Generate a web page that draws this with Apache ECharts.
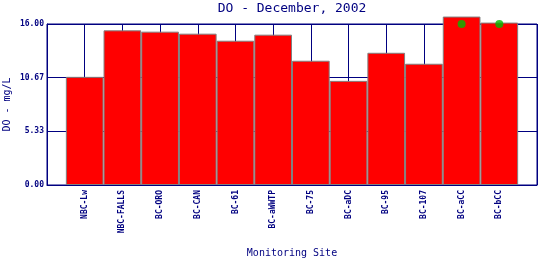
<!DOCTYPE html>
<html>
<head>
<meta charset="utf-8">
<script src="https://cdn.jsdelivr.net/npm/echarts@6/dist/echarts.min.js"></script>
<style>html,body{margin:0;padding:0;background:#fff;}#c{width:540px;height:260px;}</style>
</head>
<body>
<div id="c"></div>
<script>
const categories = ['NBC-Lw','NBC-FALLS','BC-ORO','BC-CAN','BC-61','BC-aWWTP','BC-75','BC-aDC','BC-95','BC-107','BC-aCC','BC-bCC'];
const doValues = [10.75, 15.37, 15.24, 15.04, 14.34, 14.94, 12.35, 10.35, 13.14, 12.05, 16.74, 16.14];
const markerValues = [null, null, null, null, null, null, null, null, null, null, 16.0, 16.0];
const yTicks = [0, 16/3, 32/3, 16];

const navy = '#000080';
const font = 'DejaVu Sans Mono';
const axisCats = [''].concat(categories, ['']);
const barData = [null].concat(doValues, [null]);
const dotData = [null].concat(markerValues, [null]);

const chart = echarts.init(document.getElementById('c'), null, {renderer: 'canvas'});
chart.setOption({
  animation: false,
  backgroundColor: '#ffffff',
  title: {
    text: 'DO - December, 2002',
    left: 292, top: 2, textAlign: 'center', padding: 0,
    textStyle: {color: navy, fontFamily: font, fontSize: 13, fontWeight: 'normal'}
  },
  grid: {left: 47, right: 3, top: 24, bottom: 75, show: true, borderColor: navy, borderWidth: 1,
         containLabel: false, outerBoundsMode: 'none'},
  xAxis: {
    type: 'category', boundaryGap: false, data: axisCats,
    name: 'Monitoring Site', nameLocation: 'middle', nameGap: 63, nameMoveOverlap: false,
    nameTextStyle: {color: navy, fontFamily: font, fontSize: 10},
    axisLine: {lineStyle: {color: navy, width: 1}},
    axisTick: {show: false},
    axisLabel: {interval: 0, rotate: 90, margin: 5, color: navy, fontFamily: font, fontSize: 8, fontWeight: 'bold'},
    splitLine: {show: true, interval: 0, lineStyle: {color: navy, width: 1}}
  },
  yAxis: {
    type: 'value', min: yTicks[0], max: yTicks[3], interval: yTicks[1],
    name: 'DO - mg/L', nameLocation: 'middle', nameGap: 35, nameMoveOverlap: false,
    nameTextStyle: {color: navy, fontFamily: font, fontSize: 10},
    axisLine: {show: true, lineStyle: {color: navy, width: 1}},
    axisTick: {show: false},
    axisLabel: {margin: 3, color: navy, fontFamily: font, fontSize: 8, fontWeight: 'bold', formatter: v => v.toFixed(2)},
    splitLine: {show: true, lineStyle: {color: navy, width: 1}}
  },
  series: [
    {type: 'bar', data: barData, barWidth: '100%', clip: false,
     itemStyle: {color: '#ff0000', borderColor: '#808080', borderWidth: 1}, z: 3},
    {type: 'scatter', data: dotData, symbol: 'circle', symbolSize: 8, clip: false,
     itemStyle: {color: '#00bb00'}, z: 4}
  ]
});
</script>
</body>
</html>
